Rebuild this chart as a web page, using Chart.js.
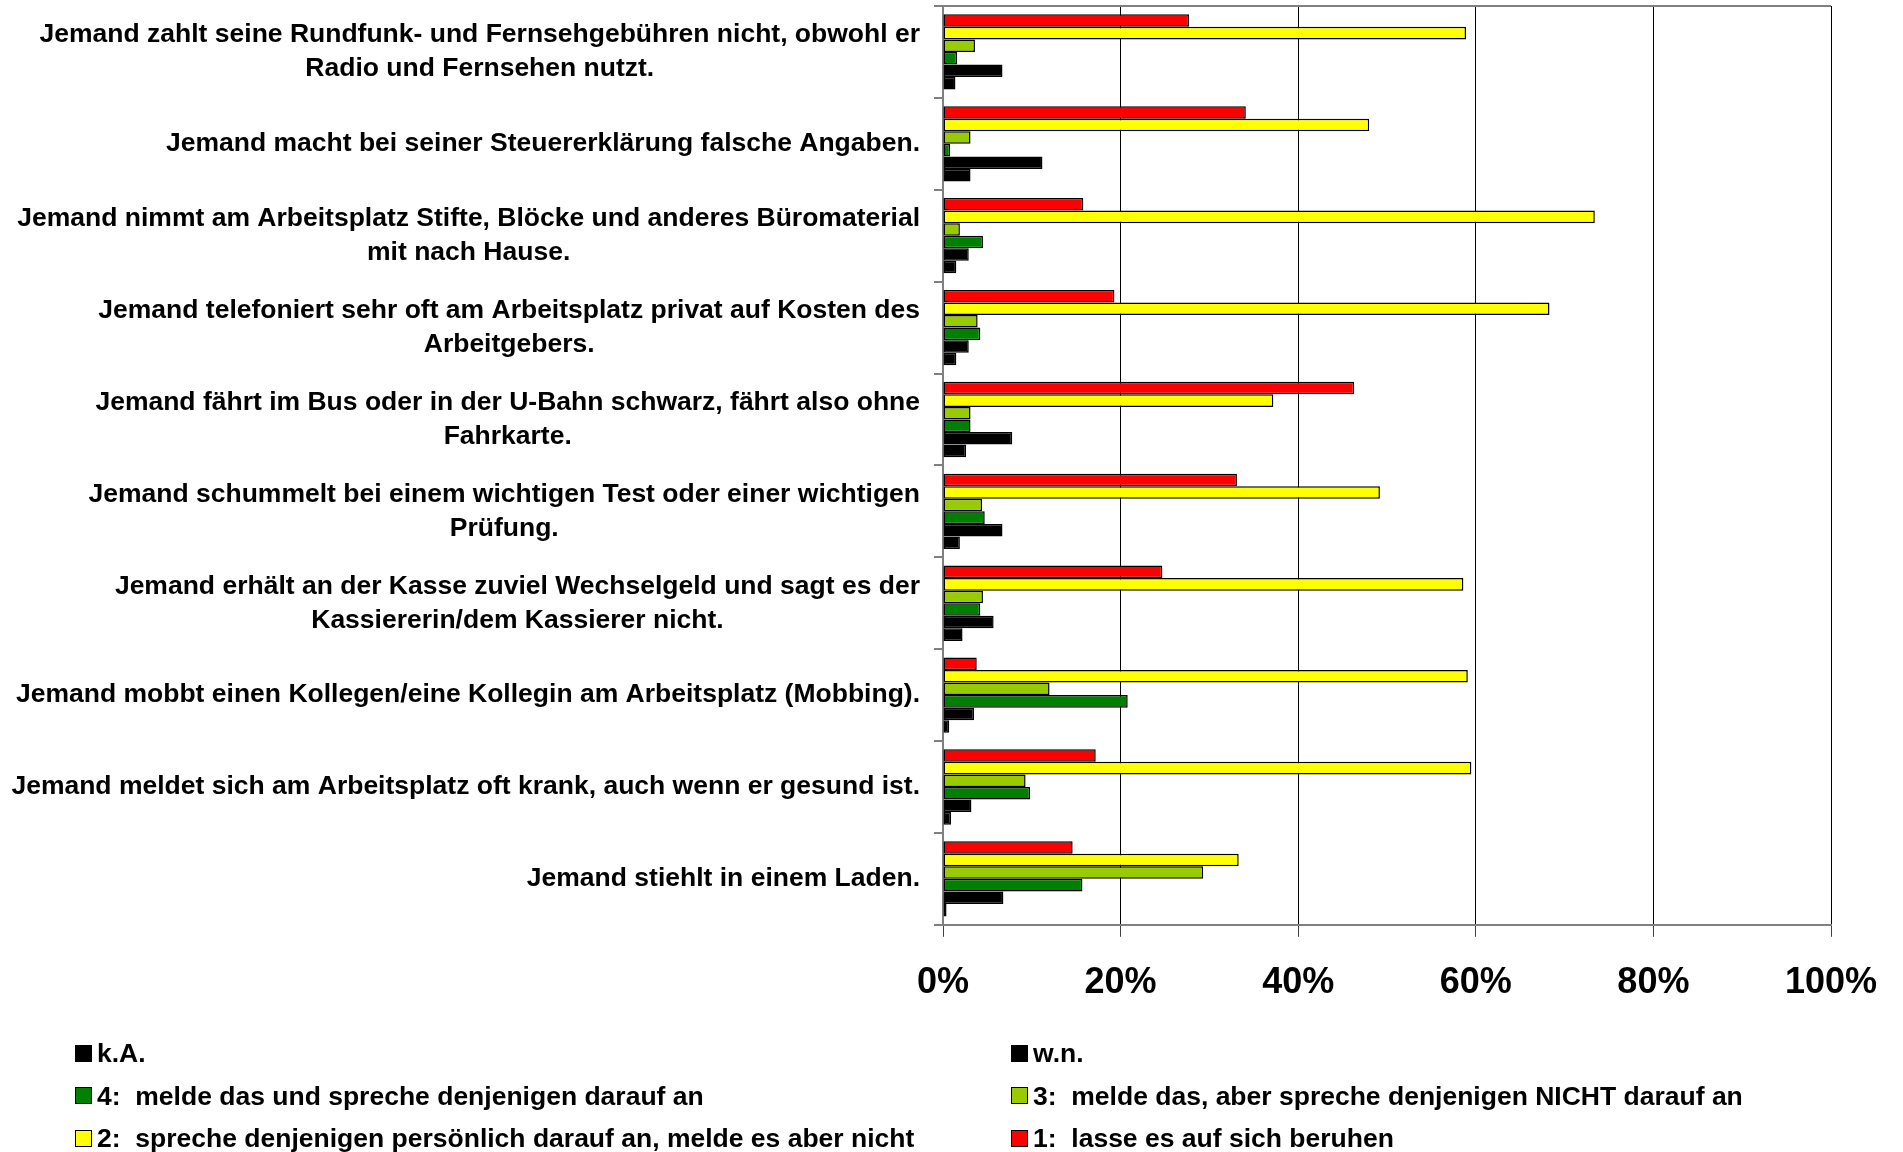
<!DOCTYPE html>
<html lang="de">
<head>
<meta charset="utf-8">
<title>Verhalten bei Regelverstößen</title>
<script src="https://cdn.jsdelivr.net/npm/chart.js@4.4.1/dist/chart.umd.min.js"></script>
<style>
  html, body { margin: 0; padding: 0; background: #fff; }
  body { width: 1903px; height: 1152px; position: relative; overflow: hidden;
         font-family: "Liberation Sans", Arial, sans-serif; }
  #chart-wrap { position: absolute; left: 0; top: 0; width: 1903px; height: 1034px; }
  #legend { position: absolute; left: 75px; top: 1032px; display: grid;
            grid-template-columns: 936px auto; grid-auto-rows: 42.5px; }
  .legend-item { display: flex; align-items: center; font-weight: bold; font-size: 26.5px;
                 line-height: 30px; white-space: pre; color: #000; }
  .legend-box { width: 15px; height: 15px; border: 1px solid #000; margin-right: 5px; flex: none; }
</style>
</head>
<body>
<div id="chart-wrap"><canvas id="verhaltenChart"></canvas></div>
<div id="legend"></div>
<script>
// Categories (each entry = lines of the label)
const categories = [
  ['Jemand zahlt seine Rundfunk- und Fernsehgebühren nicht, obwohl er', 'Radio und Fernsehen nutzt.'],
  ['Jemand macht bei seiner Steuererklärung falsche Angaben.'],
  ['Jemand nimmt am Arbeitsplatz Stifte, Blöcke und anderes Büromaterial', 'mit nach Hause.'],
  ['Jemand telefoniert sehr oft am Arbeitsplatz privat auf Kosten des', 'Arbeitgebers.'],
  ['Jemand fährt im Bus oder in der U-Bahn schwarz, fährt also ohne', 'Fahrkarte.'],
  ['Jemand schummelt bei einem wichtigen Test oder einer wichtigen', 'Prüfung.'],
  ['Jemand erhält an der Kasse zuviel Wechselgeld und sagt es der', 'Kassiererin/dem Kassierer nicht.'],
  ['Jemand mobbt einen Kollegen/eine Kollegin am Arbeitsplatz (Mobbing).'],
  ['Jemand meldet sich am Arbeitsplatz oft krank, auch wenn er gesund ist.'],
  ['Jemand stiehlt in einem Laden.']
];

// Series values in percent
const lasseBeruhen   = [27.7, 34.1, 15.8, 19.3, 46.3, 33.1, 24.7,  3.8, 17.2, 14.6];
const sprecheAn      = [58.9, 48.0, 73.4, 68.3, 37.2, 49.2, 58.6, 59.1, 59.5, 33.3];
const meldeNichtAn   = [ 3.6,  3.1,  1.9,  3.9,  3.1,  4.4,  4.5, 12.0,  9.3, 29.3];
const meldeUndAn     = [ 1.6,  0.8,  4.5,  4.2,  3.1,  4.7,  4.2, 20.8,  9.8, 15.7];
const weissNicht     = [ 6.7, 11.2,  2.9,  2.9,  7.8,  6.7,  5.7,  3.5,  3.2,  6.8];
const keineAngabe    = [ 1.4,  3.1,  1.5,  1.5,  2.6,  1.9,  2.2,  0.7,  0.9,  0.4];

const seriesLabels = [
  '1:  lasse es auf sich beruhen',
  '2:  spreche denjenigen persönlich darauf an, melde es aber nicht',
  '3:  melde das, aber spreche denjenigen NICHT darauf an',
  '4:  melde das und spreche denjenigen darauf an',
  'w.n.',
  'k.A.'
];

// Tick labels
const xTicks = [0, 20, 40, 60, 80, 100];

const FONT = '"Liberation Sans", Arial, sans-serif';

// Draws the category labels: each block right-aligned, its lines centred
const categoryLabels = {
  id: 'categoryLabels',
  afterDraw(chart) {
    const scale = chart.scales.y;
    const ctx = chart.ctx;
    ctx.save();
    ctx.font = 'bold 26.5px ' + FONT;
    ctx.fillStyle = '#000';
    ctx.textAlign = 'center';
    ctx.textBaseline = 'middle';
    const rightEdge = scale.right - 23;
    categories.forEach((lines, i) => {
      const widest = Math.max(...lines.map(l => ctx.measureText(l).width));
      const cx = rightEdge - widest / 2;
      const cy = scale.getPixelForTick(i);
      lines.forEach((line, j) => {
        ctx.fillText(line, cx, cy + (j - (lines.length - 1) / 2) * 34);
      });
    });
    ctx.restore();
  }
};

// Top border of the plot area
const plotFrame = {
  id: 'plotFrame',
  afterDraw(chart) {
    const { ctx, chartArea } = chart;
    ctx.save();
    ctx.strokeStyle = '#808080';
    ctx.lineWidth = 2;
    ctx.beginPath();
    ctx.moveTo(chartArea.left, chartArea.top);
    ctx.lineTo(chartArea.right, chartArea.top);
    ctx.stroke();
    ctx.restore();
  }
};

function makeSet(label, data, color) {
  return {
    label, data,
    backgroundColor: color,
    borderColor: '#000',
    borderWidth: 1.5,
    borderSkipped: false,
    barPercentage: 1,
    categoryPercentage: 0.82
  };
}

const chart = new Chart(document.getElementById('verhaltenChart'), {
  type: 'bar',
  data: {
    labels: categories.map(c => c.join(' ')),
    datasets: [
      makeSet(seriesLabels[0], lasseBeruhen, '#FF0000'),
      makeSet(seriesLabels[1], sprecheAn, '#FFFF00'),
      makeSet(seriesLabels[2], meldeNichtAn, '#99CC00'),
      makeSet(seriesLabels[3], meldeUndAn, '#008000'),
      makeSet(seriesLabels[4], weissNicht, '#000000'),
      makeSet(seriesLabels[5], keineAngabe, '#000000')
    ]
  },
  options: {
    indexAxis: 'y',
    responsive: true,
    maintainAspectRatio: false,
    animation: false,
    layout: { padding: { top: 6, right: 72, bottom: 4, left: 3 } },
    plugins: {
      legend: { display: false },
      tooltip: { enabled: false }
    },
    scales: {
      x: {
        min: 0,
        max: 100,
        afterBuildTicks: (scale) => { scale.ticks = xTicks.map(v => ({ value: v })); },
        grid: { color: '#000', lineWidth: 1, drawTicks: true, tickLength: 12, tickColor: '#404040' },
        border: { display: true, color: '#808080', width: 2 },
        ticks: {
          padding: 25,
          color: '#000',
          font: { family: FONT, size: 36, weight: 'bold' },
          callback: v => v + '%'
        }
      },
      y: {
        afterFit: (scale) => { scale.width = 940; },
        grid: { drawOnChartArea: false, drawTicks: true, tickLength: 9, color: '#808080', lineWidth: 2, offset: true },
        border: { display: true, color: '#808080', width: 2 },
        ticks: { display: false }
      }
    }
  },
  plugins: [categoryLabels, plotFrame]
});

// Legend in two columns, order k.A., w.n., 4, 3, 2, 1
const legendEl = document.getElementById('legend');
chart.data.datasets.slice().reverse().forEach(ds => {
  const item = document.createElement('div');
  item.className = 'legend-item';
  const box = document.createElement('span');
  box.className = 'legend-box';
  box.style.background = ds.backgroundColor;
  item.appendChild(box);
  item.appendChild(document.createTextNode(ds.label));
  legendEl.appendChild(item);
});
</script>
</body>
</html>
